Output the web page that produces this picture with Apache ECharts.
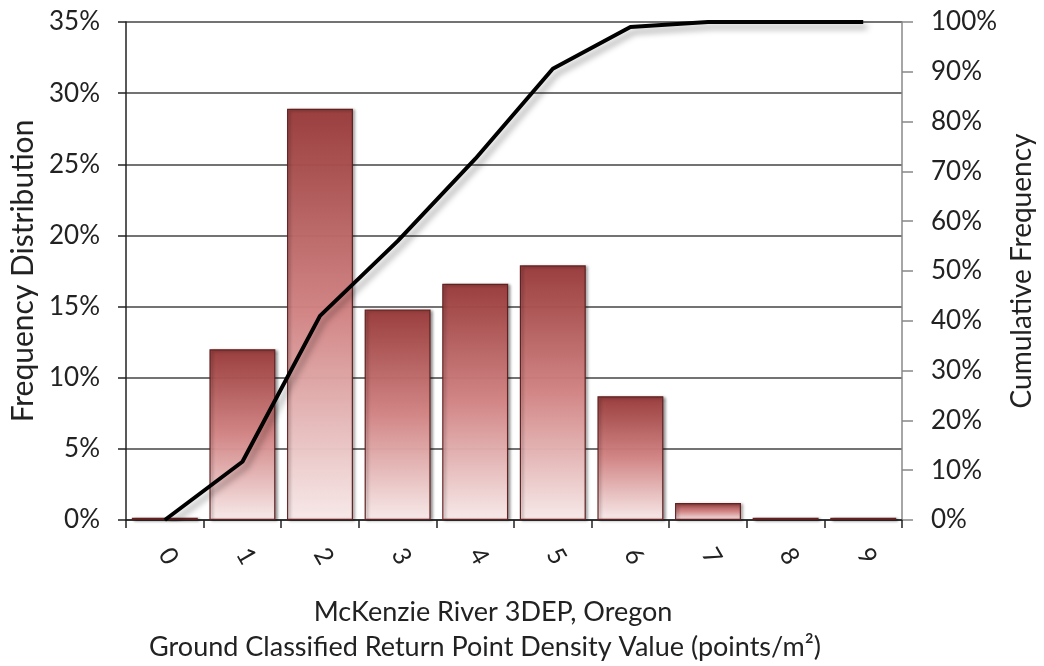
<!DOCTYPE html>
<html>
<head>
<meta charset="utf-8">
<script src="https://cdn.jsdelivr.net/npm/echarts@6/dist/echarts.min.js"></script>
<style>
  html, body { margin: 0; padding: 0; background: #fff; }
  #chart { width: 1044px; height: 666px; }
</style>
</head>
<body>
<div id="chart"></div>
<script>
// point density classes
var densityClass = ['0', '1', '2', '3', '4', '5', '6', '7', '8', '9'];
// frequency distribution (%)
var freqPct = [0.15, 12.0, 28.9, 14.8, 16.6, 17.9, 8.7, 1.2, 0.15, 0.15];
// cumulative frequency (%)
var cumPct = [0, 11.7, 41.0, 56.0, 72.5, 90.6, 99.0, 100, 100, 100];

var leftTicks = { min: 0, max: 35, interval: 5 };
var rightTicks = { min: 0, max: 100, interval: 10 };

var font = 'Lato, "Open Sans", sans-serif';

var chart = echarts.init(document.getElementById('chart'));

var barFill = new echarts.graphic.LinearGradient(0, 0, 0, 1, [
    { offset: 0, color: '#9b3a3a' },
    { offset: 0.5, color: '#d68686' },
    { offset: 1, color: '#fdeeee' }
]);

var opt = {
    animation: false,
    grid: {
        left: 125,
        right: 138,
        top: 22,
        bottom: 146
    },
    xAxis: {
        type: 'category',
        data: densityClass,
        boundaryGap: true,
        axisLine: { lineStyle: { color: '#222', width: 1.5 } },
        axisTick: { show: true, length: 8, lineStyle: { color: '#222', width: 1.5 } },
        axisLabel: {
            rotate: -60,
            margin: 30,
            fontFamily: font,
            fontSize: 25,
            color: '#222'
        }
    },
    yAxis: [
        {
            type: 'value',
            min: leftTicks.min,
            max: leftTicks.max,
            interval: leftTicks.interval,
            name: 'Frequency Distribution',
            nameLocation: 'middle',
            nameRotate: 90,
            nameGap: 88,
            nameTextStyle: { fontFamily: font, fontSize: 30, color: '#222' },
            axisLine: { show: true, lineStyle: { color: '#222', width: 1.5 } },
            axisTick: { show: true, length: 8, lineStyle: { color: '#222', width: 1.5 } },
            axisLabel: {
                formatter: '{value}%',
                margin: 26,
                fontFamily: font,
                fontSize: 26,
                color: '#222'
            },
            splitLine: { lineStyle: { color: '#444', width: 1.5 } }
        },
        {
            type: 'value',
            min: rightTicks.min,
            max: rightTicks.max,
            interval: rightTicks.interval,
            position: 'right',
            name: 'Cumulative Frequency',
            nameLocation: 'middle',
            nameRotate: 90,
            nameGap: 105,
            nameTextStyle: { fontFamily: font, fontSize: 28, color: '#222' },
            axisLine: { show: true, lineStyle: { color: '#888', width: 1.5 } },
            axisTick: { show: true, length: 11, lineStyle: { color: '#888', width: 1.5 } },
            axisLabel: {
                formatter: '{value}%',
                margin: 29,
                fontFamily: font,
                fontSize: 26,
                color: '#222'
            },
            splitLine: { show: false }
        }
    ],
    graphic: [
        {
            type: 'text',
            x: 493,
            y: 612,
            style: {
                text: 'McKenzie River 3DEP, Oregon',
                fontFamily: font,
                fontSize: 27,
                fill: '#222',
                align: 'center',
                verticalAlign: 'middle'
            }
        },
        {
            type: 'text',
            x: 485,
            y: 647,
            style: {
                text: 'Ground Classified Return Point Density Value (points/m²)',
                fontFamily: font,
                fontSize: 27,
                fill: '#222',
                align: 'center',
                verticalAlign: 'middle'
            }
        }
    ],
    series: [
        {
            name: 'Frequency Distribution',
            type: 'bar',
            data: freqPct,
            barCategoryGap: '15%',
            itemStyle: {
                color: barFill,
                borderColor: '#5e1c1c',
                borderWidth: 1.2,
                opacity: 0.95,
                shadowColor: 'rgba(0,0,0,0.45)',
                shadowBlur: 3,
                shadowOffsetX: 2,
                shadowOffsetY: 1
            },
            z: 2
        },
        {
            name: 'Cumulative Frequency',
            type: 'line',
            yAxisIndex: 1,
            data: cumPct,
            symbol: 'none',
            lineStyle: {
                color: '#000',
                width: 4,
                shadowColor: 'rgba(0,0,0,0.35)',
                shadowBlur: 6,
                shadowOffsetX: 4,
                shadowOffsetY: 5
            },
            z: 3
        }
    ]
};
chart.setOption(opt);
</script>
</body>
</html>
